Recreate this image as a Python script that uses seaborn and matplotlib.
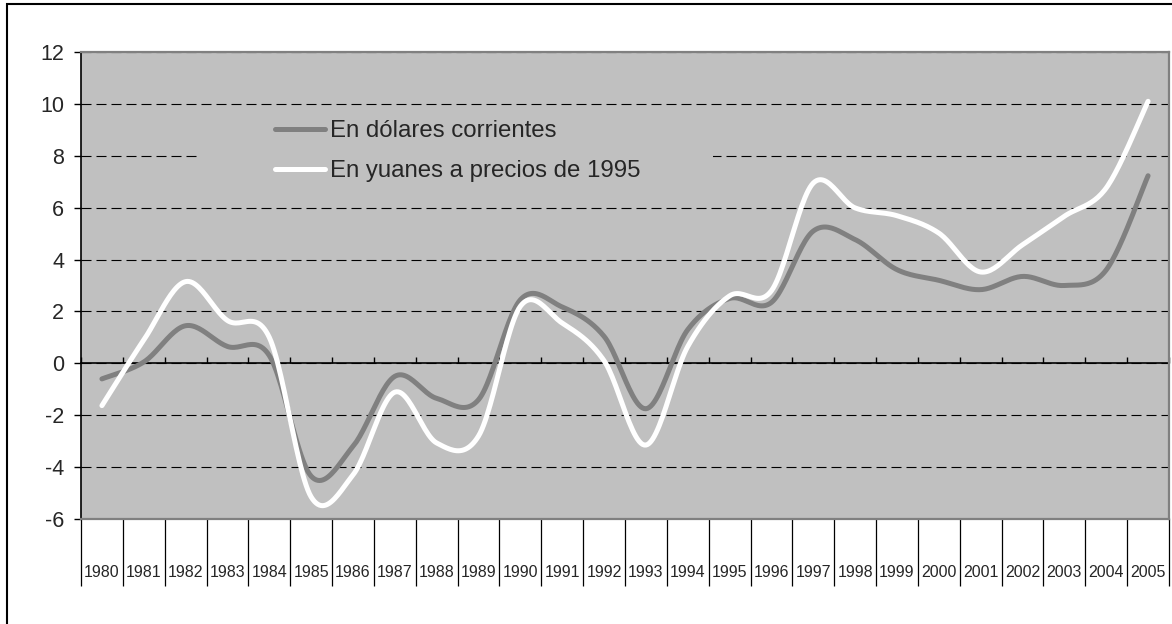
import numpy as np
import pandas as pd
import matplotlib
matplotlib.use("Agg")
import matplotlib.pyplot as plt
import seaborn as sns
from matplotlib.lines import Line2D
from matplotlib.patches import Rectangle

years = [str(y) for y in range(1980, 2006)]
dolares = [-0.6, 0.05, 1.45, 0.65, 0.3, -4.35, -3.2, -0.5, -1.35, -1.4,
           2.45, 2.17, 1.04, -1.75, 1.3, 2.5, 2.35, 5.1, 4.77, 3.61,
           3.2, 2.84, 3.35, 3.0, 3.6, 7.23]
yuanes = [-1.63, 0.9, 3.15, 1.65, 1.0, -5.15, -4.3, -1.11, -3.07, -2.8,
          2.2, 1.55, 0.1, -3.15, 0.65, 2.6, 2.8, 6.95, 5.99, 5.69,
          5.02, 3.52, 4.57, 5.67, 6.76, 10.1]
series_names = ["En dólares corrientes", "En yuanes a precios de 1995"]
series_colors = ["#808080", "#FFFFFF"]


def smooth(vals, n=25):
    # excel style smoothed line: bezier segments through every point
    p = np.asarray(vals, float)
    x = np.arange(len(p), dtype=float)
    px = np.concatenate([[x[0]], x, [x[-1]]])
    py = np.concatenate([[p[0]], p, [p[-1]]])
    t = np.linspace(0, 1, n, endpoint=False)
    xs, ys = [], []
    for i in range(len(p) - 1):
        a = np.array([px[i + 1], py[i + 1]])
        d = np.array([px[i + 2], py[i + 2]])
        b = a + (np.array([px[i + 2], py[i + 2]]) - np.array([px[i], py[i]])) / 6
        c = d - (np.array([px[i + 3], py[i + 3]]) - np.array([px[i + 1], py[i + 1]])) / 6
        pts = ((1 - t) ** 3)[:, None] * a + (3 * (1 - t) ** 2 * t)[:, None] * b \
            + (3 * (1 - t) * t ** 2)[:, None] * c + (t ** 3)[:, None] * d
        xs.extend(pts[:, 0])
        ys.extend(pts[:, 1])
    xs.append(x[-1])
    ys.append(p[-1])
    return xs, ys


frames = []
for name, vals in zip(series_names, [dolares, yuanes]):
    sx, sy = smooth(vals)
    frames.append(pd.DataFrame({"x": sx, "valor": sy, "serie": name}))
df = pd.concat(frames, ignore_index=True)

sns.set_style("white")
plt.rcParams["font.family"] = ["Liberation Sans", "DejaVu Sans"]
plt.rcParams["axes.unicode_minus"] = False

fig = plt.figure(figsize=(11.72, 6.24), dpi=100)
ax = fig.add_axes([81 / 1172, 1 - 519 / 624, 1088 / 1172, 467 / 624])
ax.set_facecolor("#C0C0C0")

sns.lineplot(data=df, x="x", y="valor", hue="serie", palette=series_colors,
             sort=False, estimator=None, linewidth=3.6, legend=False, ax=ax,
             solid_capstyle="round")

ax.set_xlim(-0.5, len(years) - 0.5)
ax.set_ylim(-6, 12)
ax.set_yticks(range(-6, 13, 2))
ax.tick_params(axis="y", labelsize=15.5, length=5, width=1, color="black", pad=7,
               left=True)
ax.grid(axis="y", color="black", linewidth=0.8, linestyle=(0, (9, 4.5)))
ax.grid(axis="x", visible=False)
ax.set_xlabel("")
ax.set_ylabel("")

# category cells under the plot
bounds = np.arange(-0.5, len(years), 1.0)
ax.set_xticks(bounds, [""] * len(bounds))
ax.tick_params(axis="x", which="major", length=48, width=0.9, color="black",
               bottom=True, direction="out")
ax.set_xticks(np.arange(len(years)), years, minor=True)
ax.tick_params(axis="x", which="minor", length=0, pad=33, labelsize=11.5)

for s in ["top", "right", "bottom"]:
    ax.spines[s].set_color("#808080")
    ax.spines[s].set_linewidth(1.6)
ax.spines["left"].set_color("black")
ax.spines["left"].set_linewidth(1.2)

# category axis crossing at 0
sec = ax.secondary_xaxis(1 / 3)
sec.set_xticks(bounds, [""] * len(bounds))
sec.tick_params(axis="x", direction="in", length=4.5, width=1, color="black")
for s in sec.spines.values():
    s.set_color("black")
    s.set_linewidth(1.2)

# legend sits on a patch of plot background that hides the grid
ax.add_patch(Rectangle((116 / 1088, 319 / 467), 516 / 1088, 88 / 467,
                       transform=ax.transAxes, facecolor="#C0C0C0",
                       edgecolor="none", zorder=1))
handles = [Line2D([], [], color=c, lw=3.6, solid_capstyle="round") for c in series_colors]
ax.legend(handles, series_names, loc="upper left",
          bbox_to_anchor=(182 / 1088, 411 / 467), frameon=False, borderpad=0,
          fontsize=17.3, handlelength=2.1, handletextpad=0.2, labelspacing=0.75)

# outer chart frame
fig.add_artist(Rectangle((6.5 / 1172, -0.05), 1.2, 1.05 - 3.5 / 624,
                         transform=fig.transFigure, fill=False,
                         edgecolor="black", linewidth=1.5, clip_on=False))

fig.savefig("out.png", dpi=100)
